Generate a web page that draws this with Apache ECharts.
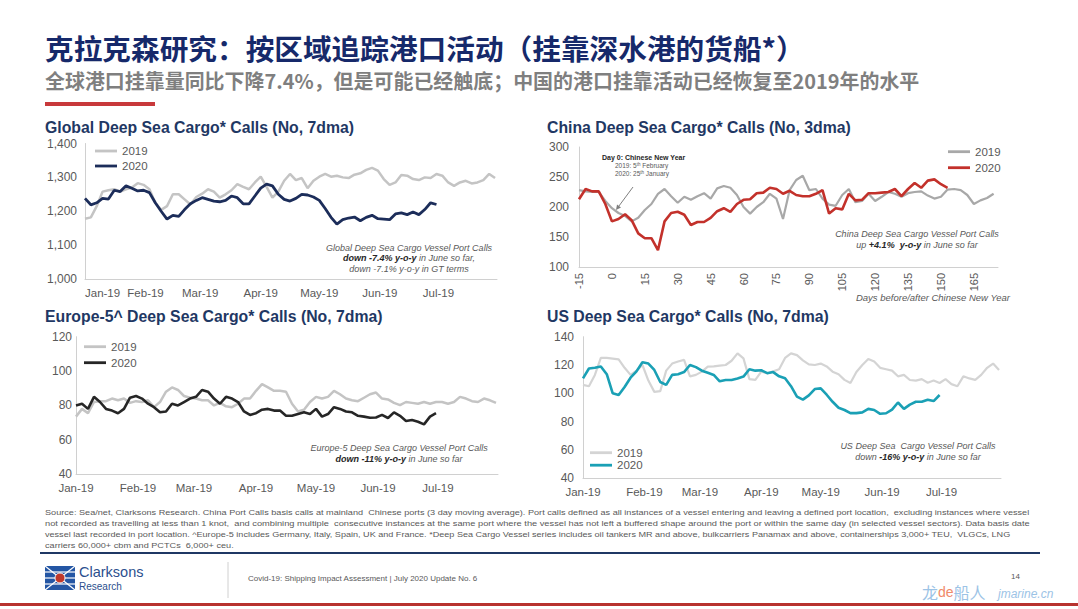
<!DOCTYPE html>
<html><head><meta charset="utf-8">
<script src="https://cdn.jsdelivr.net/npm/echarts@6/dist/echarts.min.js"></script>
<style>html,body{margin:0;padding:0;background:#fff}#c{width:1078px;height:609px}</style>
</head><body><div id="c"></div>
<script>
// ---------------- data ----------------
const MONTHS = ['Jan','Feb','Mar','Apr','May','Jun','Jul','Aug','Sep','Oct','Nov','Dec'];
const SAMPLE_STEP = 3;           // values are read every 3 days
// Global (days from 1 Jan)
const global2019 = [1178,1182,1215,1258,1262,1265,1258,1265,1270,1283,1278,1265,1225,1204,1215,1250,1250,1235,1220,1242,1252,1265,1258,1240,1250,1262,1280,1272,1265,1285,1302,1272,1240,1258,1290,1310,1292,1298,1268,1290,1302,1310,1302,1305,1300,1298,1308,1312,1322,1328,1320,1295,1278,1285,1307,1305,1295,1292,1300,1298,1310,1305,1285,1275,1285,1290,1282,1285,1292,1310,1298];
const global2020 = [1238,1219,1225,1238,1236,1262,1258,1275,1268,1260,1262,1255,1225,1200,1177,1188,1185,1205,1222,1232,1240,1235,1230,1228,1232,1245,1240,1222,1222,1245,1268,1280,1275,1250,1235,1230,1238,1250,1248,1242,1232,1208,1182,1162,1175,1180,1183,1172,1182,1188,1178,1177,1175,1192,1195,1190,1198,1190,1205,1225,1220];
// China (days from Chinese New Year, first value at day -15)
const CHINA_START = -15;
const china2019 = [228,226,225,225,210,198,190,185,176,182,195,205,222,230,218,207,217,212,218,223,214,231,235,232,220,200,189,200,208,222,214,180,228,245,252,228,230,214,204,202,220,230,208,210,222,210,217,225,222,217,223,225,226,219,214,217,229,230,228,220,205,211,215,222];
const china2020 = [213,230,226,226,205,176,180,188,178,156,148,148,128,176,190,192,187,170,175,175,182,193,198,192,205,212,213,223,224,232,230,222,227,220,218,218,222,228,189,198,196,222,211,212,223,223,224,225,230,218,230,240,232,244,246,238,232];
// Europe-5
const europe2019 = [73.5,78,75.5,82,82.5,82.5,84,83,84,81.5,82.5,82,83,79,82,88,90.5,89,85.5,84.5,84,83,83,80,81.5,79.5,79,81,84,84,88.5,92.4,90.5,88.5,88.5,88,81,76.5,77.5,82,85,84,85,88.5,86.5,84,83,82.5,84.5,86.5,87.5,84,83.5,81.5,80.2,82,81.5,81,82,81,82,82,81,82,85,84,82.5,82,84,83,81.5];
const europe2020 = [80,81,78,85,82,78,77,75.5,78,84.5,85.5,84,81,79,76,76.5,81,80,82,84,85,89,88,84,81,85,84,82,76.5,74.5,75.5,77.5,78,77,77,74,74,75,76,75,78,73.5,75,79,78,76.5,76,74,73.5,72.8,73,74.5,72.7,76,74,71,71.5,70.5,69,73.5,75.5];
// US
const us2019 = [106,105,113,125,125,124.5,124,118,113,116,120,109,101,101.5,116,121,122.5,123.6,112,113,115.3,118.8,119,119.5,120,123,128.2,124.7,110,109.5,115.3,114.2,115.5,117,125,128.2,127,123.3,120.5,120,121,119,115.3,113.5,109.5,107.3,115,120,124.2,122.4,118,117,116,112,113,109.4,109,110,107.5,109,107.3,110,106.5,105,112,110.5,109.5,113,118,121,116.5];
const us2020 = [110.5,117.5,118,119,113.5,100,98.8,104.5,111,115.5,122,121,116.5,108,106,113,113.5,115,120,118.5,116,114.5,113,108.5,109.4,109.4,110.5,111.8,117,116,116.3,114.2,115,112,110.6,105,97.6,95.5,98.5,103,103.5,99,94,89.8,88.2,86,86,86.5,89,88.2,85.5,85.9,88.5,93.5,89,92,94,94,95.5,94.5,98.8];
// axis ticks
const globalTicks = {min:1000, max:1400, interval:100};
const chinaTicks  = {min:100, max:300, interval:50};
const europeTicks = {min:40, max:120, interval:20};
const usTicks     = {min:40, max:140, interval:20};
const chinaDays   = {min:-15, max:176, interval:15};
// daily categories for the calendar charts, 1 Jan - 31 Jul
const DAY_COUNT = 212;
const dayCategories = [];
for (let i = 0; i < DAY_COUNT; i++) {
  const d = new Date(Date.UTC(2019, 0, 1) + i * 86400000);
  dayCategories.push(d.toISOString().slice(0, 10));
}

// ---------------- helpers ----------------
const FONT = '"Liberation Sans", Arial, Helvetica, sans-serif';
const CJK = '"Noto Sans CJK SC", "Noto Sans", sans-serif';
const GREY_TXT = '#595959';
const pts = (vals, start) => vals.map((v, i) => [start + i * SAMPLE_STEP, v]);
const mctx = document.createElement('canvas').getContext('2d');
function fit(text, font, target) { mctx.font = font; return target / mctx.measureText(text).width; }

function txt(x, y, text, o) {
  o = o || {};
  const align = o.align || 'left';
  const st = {
    text: text, fill: o.fill || GREY_TXT, fontSize: o.fontSize || 9,
    fontFamily: o.fontFamily || FONT, fontWeight: o.fontWeight || 'normal',
    fontStyle: o.fontStyle || 'normal',
    align: align, textAlign: align, verticalAlign: 'middle', textVerticalAlign: 'middle'
  };
  if (o.rich) st.rich = o.rich;
  const el = {type: 'text', x: x, y: y, silent: true, style: st};
  if (o.scaleX) { el.scaleX = o.scaleX; }
  return el;
}
function richIt(size) {
  return {
    n: {fontStyle: 'italic', fontSize: size, fontFamily: FONT, fill: GREY_TXT},
    b: {fontStyle: 'italic', fontWeight: 'bold', fontSize: size, fontFamily: FONT, fill: '#262626'}
  };
}

function catX(grid, alignMin) {
  const lab = {
    interval: (i, v) => v.slice(8) === '01',
    formatter: v => MONTHS[+v.slice(5, 7) - 1] + '-19',
    color: GREY_TXT, fontSize: 11.5, fontFamily: FONT, margin: 8
  };
  if (alignMin) lab.alignMinLabel = 'left';
  return {
    type: 'category', gridIndex: grid, data: dayCategories, boundaryGap: false,
    axisLine: {show: true, onZero: false, lineStyle: {color: '#d0d0d0', width: 1}},
    axisTick: {show: false}, splitLine: {show: false}, axisLabel: lab
  };
}
function valY(grid, t, fmt, margin) {
  return {
    type: 'value', gridIndex: grid, min: t.min, max: t.max, interval: t.interval,
    axisLine: {show: true, onZero: false, lineStyle: {color: '#d0d0d0', width: 1}},
    axisTick: {show: false}, splitLine: {show: false},
    axisLabel: {color: GREY_TXT, fontSize: 12, fontFamily: FONT, margin: margin, formatter: fmt}
  };
}
function line(name, xi, data, color, width, z) {
  return {
    type: 'line', name: name, xAxisIndex: xi, yAxisIndex: xi, data: data,
    symbol: 'none', showSymbol: false, smooth: false, z: z,
    lineStyle: {color: color, width: width}, itemStyle: {color: color},
    emphasis: {disabled: true}, animation: false
  };
}
function legend(names, left, top, gap) {
  return {
    data: names.map(n => ({name: n, icon: 'rect'})), left: left, top: top, orient: 'vertical', padding: 0,
    itemWidth: 22, itemHeight: 2.8, itemGap: gap, selectedMode: false,
    formatter: n => n.split('|')[1],
    textStyle: {color: GREY_TXT, fontSize: 11.5, fontFamily: FONT, lineHeight: 12}
  };
}

const titleText = '克拉克森研究：按区域追踪港口活动（挂靠深水港的货船*）';
const subText = '全球港口挂靠量同比下降7.4%，但是可能已经触底；中国的港口挂靠活动已经恢复至2019年的水平';
const src = [
  'Source: Sea/net, Clarksons Research. China Port Calls basis calls at mainland  Chinese ports (3 day moving average). Port calls defined as all instances of a vessel entering and leaving a defined port location,  excluding instances where vessel',
  'not recorded as travelling at less than 1 knot,  and combining multiple  consecutive instances at the same port where the vessel has not left a buffered shape around the port or within the same day (in selected vessel sectors). Data basis date',
  'vessel last recorded in port location. ^Europe-5 includes Germany, Italy, Spain, UK and France. *Deep Sea Cargo Vessel series includes oil tankers MR and above, bulkcarriers Panamax and above, containerships 3,000+ TEU,  VLGCs, LNG',
  'carriers 60,000+ cbm and PCTCs  6,000+ ceu.'
];
const srcTargets = [985, 987, 967, null];

const graphics = [];
// header
graphics.push(txt(45, 48, titleText, {fontSize: 28, fontWeight: 'bold', fontFamily: CJK, fill: '#16296a',
  scaleX: fit(titleText, 'bold 28px "Noto Sans CJK SC"', 760)}));
graphics.push(txt(45, 80, subText, {fontSize: 20, fontWeight: 'bold', fontFamily: CJK, fill: '#7f7f7f',
  scaleX: fit(subText, 'bold 20px "Noto Sans CJK SC"', 875)}));
graphics.push({type: 'rect', shape: {x: 45, y: 102, width: 110, height: 4}, style: {fill: '#c8393b'}, silent: true});
// chart titles
const ct = {fontSize: 15.8, fontWeight: 'bold', fill: '#1f3864'};
graphics.push(txt(45, 127.5, 'Global Deep Sea Cargo* Calls (No, 7dma)', ct));
graphics.push(txt(547, 127.5, 'China Deep Sea Cargo* Calls (No, 3dma)', ct));
graphics.push(txt(45, 316, 'Europe-5^ Deep Sea Cargo* Calls (No, 7dma)', ct));
graphics.push(txt(547, 316, 'US Deep Sea Cargo* Calls (No, 7dma)', ct));
// annotations
const it = {fontSize: 9, fontStyle: 'italic', align: 'center', rich: richIt(9)};
graphics.push(txt(409, 247.5, '{n|Global Deep Sea Cargo Vessel Port Calls}', it));
graphics.push(txt(409, 258, '{b|down -7.4% y-o-y}{n| in June so far,}', it));
graphics.push(txt(409, 268.5, '{n|down -7.1% y-o-y in GT terms}', it));
graphics.push(txt(917, 234, '{n|China Deep Sea Cargo Vessel Port Calls}', it));
graphics.push(txt(917, 245, '{n|up }{b|+4.1%  y-o-y}{n| in June so far}', it));
graphics.push(txt(399, 447.5, '{n|Europe-5 Deep Sea Cargo Vessel Port Calls}', it));
graphics.push(txt(399, 458.5, '{b|down -11% y-o-y}{n| in June so far}', it));
graphics.push(txt(918, 446, '{n|US Deep Sea  Cargo Vessel Port Calls}', it));
graphics.push(txt(918, 456.5, '{n|down }{b|-16% y-o-y}{n| in June so far}', it));
graphics.push(txt(1010, 297, 'Days before/after Chinese New Year', {fontSize: 9.5, fontStyle: 'italic', align: 'right'}));
// Chinese New Year note + arrow
graphics.push(txt(602, 157, 'Day 0: Chinese New Year', {fontSize: 7, fontWeight: 'bold', fill: '#262626'}));
const supRich = {s: {fontSize: 4.5, fontFamily: FONT, fill: GREY_TXT, verticalAlign: 'top'}};
graphics.push(txt(615, 165, '2019: 5{s|th} February', {fontSize: 6.5, rich: supRich}));
graphics.push(txt(615, 173, '2020: 25{s|th} January', {fontSize: 6.5, rich: supRich}));
graphics.push({type: 'line', shape: {x1: 633, y1: 187, x2: 618.5, y2: 206.6}, style: {stroke: '#7f7f7f', lineWidth: 1}, silent: true});
graphics.push({type: 'polygon', shape: {points: [[616, 210], [621, 207.5], [617, 204.5]]}, style: {fill: '#7f7f7f'}, silent: true});
// footer
src.forEach((s, i) => {
  const o = {fontSize: 8, fill: GREY_TXT};
  if (srcTargets[i]) o.scaleX = fit(s, '8px "Liberation Sans"', srcTargets[i]);
  else o.scaleX = fit(src[0], '8px "Liberation Sans"', srcTargets[0]);
  graphics.push(txt(45, 512 + i * 11, s, o));
});
graphics.push({type: 'line', shape: {x1: 40, y1: 553, x2: 1040, y2: 553}, style: {stroke: '#1f3864', lineWidth: 2}, silent: true});
graphics.push({type: 'rect', shape: {x: 45, y: 566, width: 30, height: 24}, style: {fill: '#2456a4'}, silent: true});
[[45, 566, 75, 590], [75, 566, 45, 590], [45, 578, 75, 578], [45, 572, 75, 572], [45, 584, 75, 584]].forEach(p => {
  graphics.push({type: 'line', shape: {x1: p[0], y1: p[1], x2: p[2], y2: p[3]}, style: {stroke: '#ffffff', lineWidth: 1.2}, silent: true});
});
graphics.push({type: 'circle', shape: {cx: 60, cy: 578, r: 5}, style: {fill: '#c0392b', stroke: '#ffffff', lineWidth: 1}, silent: true});
graphics.push(txt(79, 572, 'Clarksons', {fontSize: 14.5, fill: '#2b4f8e'}));
graphics.push(txt(79, 586, 'Research', {fontSize: 10, fill: '#2b4f8e'}));
graphics.push({type: 'line', shape: {x1: 228, y1: 562, x2: 228, y2: 598}, style: {stroke: '#d0d0d0', lineWidth: 1}, silent: true});
graphics.push(txt(248, 578, 'Covid-19: Shipping Impact Assessment | July 2020 Update No. 6', {fontSize: 8}));
graphics.push(txt(1020, 576, '14', {fontSize: 8, align: 'right'}));
graphics.push(txt(922, 592, '{a|龙}{c|de}{a|船人}', {fontSize: 16, fontFamily: CJK,
  rich: {a: {fontSize: 16, fontFamily: CJK, fill: '#9cc3e6'}, c: {fontSize: 14, fontFamily: FONT, fill: '#f08a6a'}}}));
graphics.push(txt(998, 594, 'jmarine.cn', {fontSize: 12, fontStyle: 'italic', fill: '#9cc3e6'}));
graphics.push({type: 'rect', shape: {x: 0, y: 603, width: 1078, height: 3}, style: {fill: '#b8322e'}, silent: true});

// ---------------- chart ----------------
const chart = echarts.init(document.getElementById('c'), null, {renderer: 'svg', width: 1078, height: 609});
const commaFmt = v => v.toLocaleString('en-US');
chart.setOption({
  backgroundColor: '#ffffff',
  animation: false,
  grid: [
    {left: 85, top: 143.5, width: 412, height: 135.5},
    {left: 579, top: 147, width: 419, height: 120},
    {left: 76, top: 336.7, width: 422, height: 137.5},
    {left: 583, top: 336.7, width: 418, height: 141.5}
  ],
  xAxis: [
    catX(0, true),
    {
      type: 'value', gridIndex: 1, min: chinaDays.min, max: chinaDays.max, interval: chinaDays.interval,
      axisLine: {show: true, onZero: false, lineStyle: {color: '#d0d0d0', width: 1}},
      axisTick: {show: false}, splitLine: {show: false},
      axisLabel: {rotate: 90, margin: 6, color: GREY_TXT, fontSize: 11, fontFamily: FONT, showMaxLabel: false}
    },
    catX(2, false),
    catX(3, false)
  ],
  yAxis: [
    valY(0, globalTicks, commaFmt, 8),
    valY(1, chinaTicks, null, 10),
    valY(2, europeTicks, null, 4),
    valY(3, usTicks, null, 9)
  ],
  legend: [
    legend(['G|2019', 'G|2020'], 95, 145, 3),
    legend(['C|2019', 'C|2020'], 948, 145.7, 4),
    legend(['E|2019', 'E|2020'], 84, 340.7, 4),
    legend(['U|2019', 'U|2020'], 590, 446.7, 0.5)
  ],
  series: [
    line('G|2019', 0, pts(global2019, 0), '#c4c4c4', 2.5, 2),
    line('G|2020', 0, pts(global2020, 0), '#1c2d5a', 2.8, 3),
    line('C|2019', 1, pts(china2019, CHINA_START), '#a8a8a8', 2.2, 2),
    line('C|2020', 1, pts(china2020, CHINA_START), '#c3312b', 2.6, 3),
    line('E|2019', 2, pts(europe2019, 0), '#c4c4c4', 2.5, 2),
    line('E|2020', 2, pts(europe2020, 0), '#262626', 2.6, 3),
    line('U|2019', 3, pts(us2019, 0), '#d4d4d4', 2.2, 2),
    line('U|2020', 3, pts(us2020, 0), '#1aa0b5', 2.6, 3)
  ],
  graphic: graphics
});
</script>
</body></html>
